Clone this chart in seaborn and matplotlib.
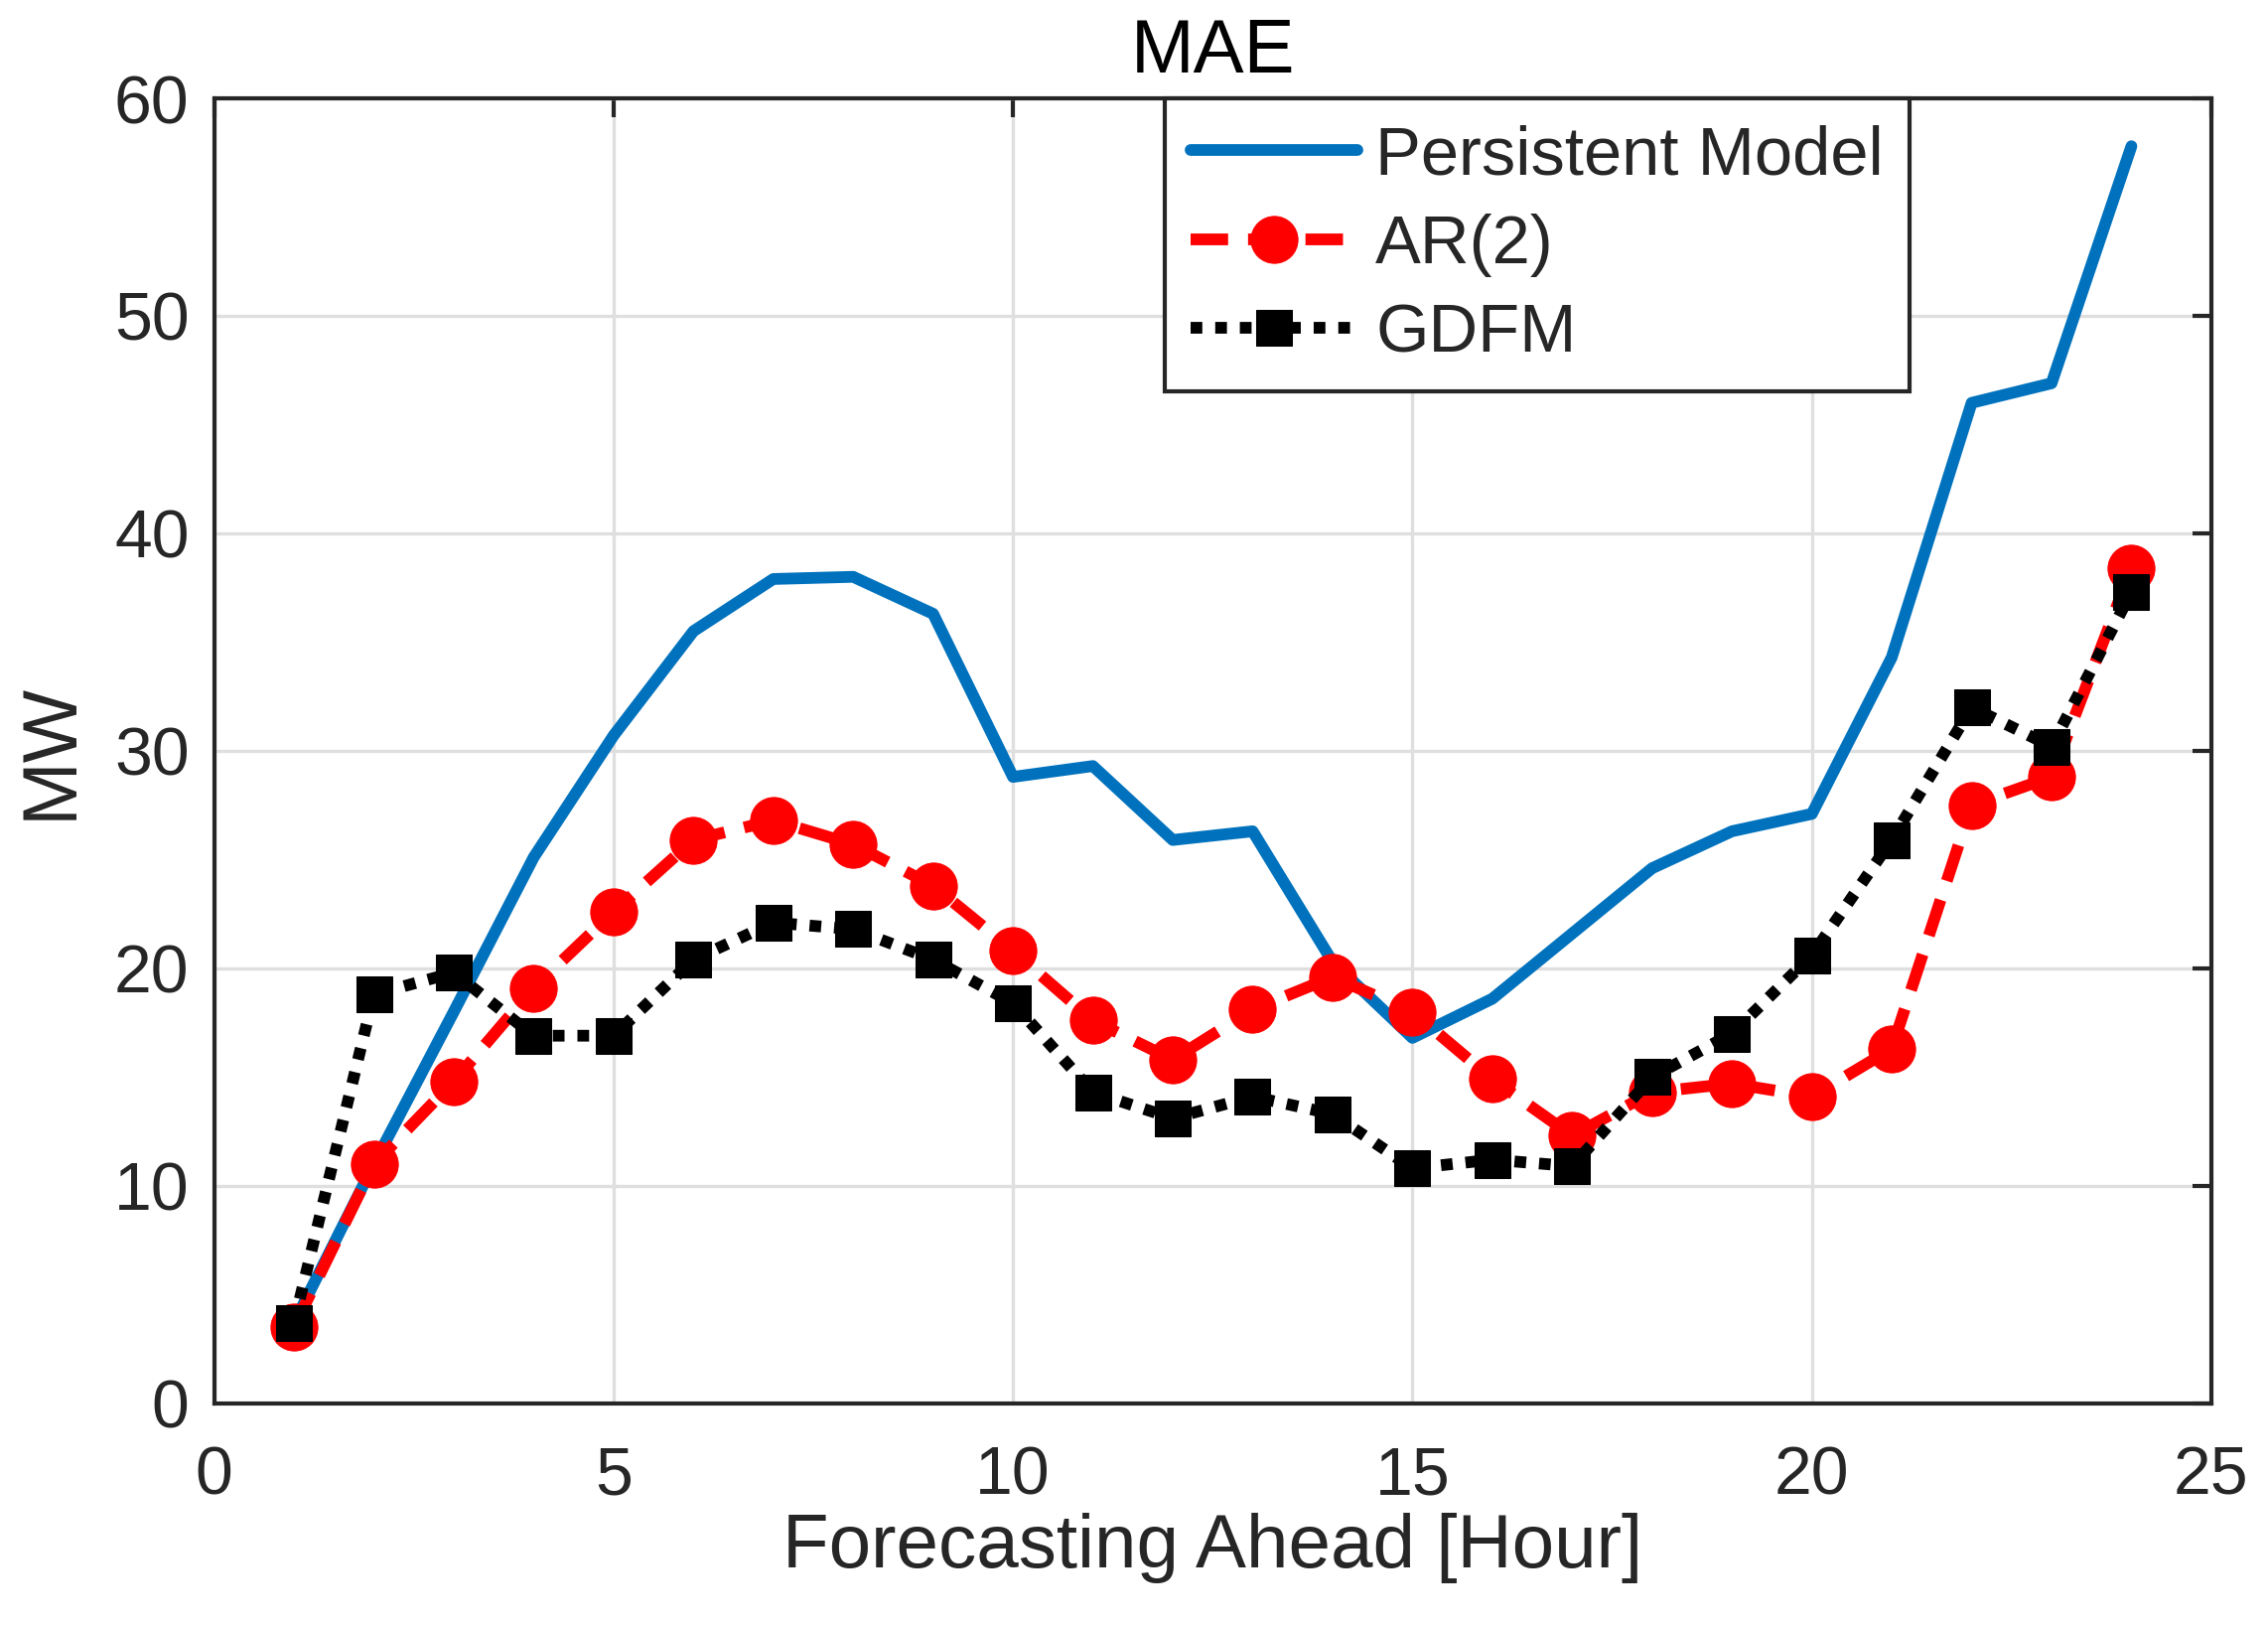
import matplotlib
matplotlib.use("Agg")
import matplotlib.pyplot as plt
import seaborn as sns
import pandas as pd
import numpy as np

hours = list(range(1, 25))
persistent = [3.7, 11.0, 18.0, 25.1, 30.7, 35.5, 37.9, 38.0, 36.3, 28.8, 29.3, 25.9,
              26.3, 20.3, 16.8, 18.6, 21.6, 24.6, 26.3, 27.1, 34.3, 46.0, 46.9, 57.8]
ar2 = [3.5, 11.0, 14.8, 19.1, 22.6, 25.9, 26.8, 25.7, 23.8, 20.8, 17.6, 15.8,
       18.1, 19.6, 18.0, 14.9, 12.3, 14.3, 14.7, 14.1, 16.3, 27.5, 28.8, 38.4]
gdfm = [3.7, 18.8, 19.8, 16.9, 16.9, 20.4, 22.1, 21.8, 20.4, 18.4, 14.3, 13.1,
        14.1, 13.3, 10.8, 11.2, 10.9, 15.0, 17.0, 20.6, 25.9, 32.0, 30.2, 37.3]
x_ticks = [0, 5, 10, 15, 20, 25]
y_ticks = [0, 10, 20, 30, 40, 50, 60]

sns.set_theme(style="white")
plt.rcParams['font.family'] = ['Liberation Sans', 'DejaVu Sans']

fig = plt.figure(figsize=(22.84, 16.37), dpi=100)
ax = fig.add_axes([0.0944, 0.137, 0.9806 - 0.0944 - 0.0056, 0.9395 - 0.137])

df = pd.DataFrame({"h": hours, "p": persistent, "a": ar2, "g": gdfm})
sns.lineplot(data=df, x="h", y="p", ax=ax, color="#0072BD", lw=8.5,
             label="Persistent Model")
sns.lineplot(data=df, x="h", y="a", ax=ax, color="#FF0000", lw=8.5,
             linestyle=(0, (3.2, 1.7)), marker="o", markersize=34,
             markeredgecolor="#FF0000", label="AR(2)")
sns.lineplot(data=df, x="h", y="g", ax=ax, color="black", lw=8.5,
             linestyle=(0, (1, 1.1)), marker="s", markersize=26,
             markeredgecolor="black", label="GDFM")

ax.set_xlim(0, 25)
ax.set_ylim(0, 60)
ax.set_xticks(x_ticks)
ax.set_yticks(y_ticks)
ax.grid(True, color="#DFDFDF", lw=2.4)
ax.set_axisbelow(True)
for s in ax.spines.values():
    s.set_color("#262626")
    s.set_linewidth(3)
ax.tick_params(direction="in", length=14, width=3, color="#262626",
               labelsize=49, labelcolor="#262626", top=True, right=True)
ax.tick_params(axis="x", pad=30)
ax.tick_params(axis="y", pad=18)
ax.set_xlabel("Forecasting Ahead [Hour]", fontsize=55, color="#262626", labelpad=3)
ax.set_ylabel("MW", fontsize=56, color="#262626", labelpad=20)
ax.set_title("MAE", fontsize=55, color="black", pad=19)

leg = ax.legend(loc="upper right", bbox_to_anchor=(0.849, 1.0), fontsize=49.5,
                frameon=True, fancybox=False, edgecolor="#262626",
                handlelength=2.44, borderpad=0.38, labelspacing=0.37,
                handletextpad=0.27, borderaxespad=0)
leg.get_frame().set_linewidth(3)
leg.get_frame().set_alpha(1)

fig.savefig("out.png", dpi=100)
